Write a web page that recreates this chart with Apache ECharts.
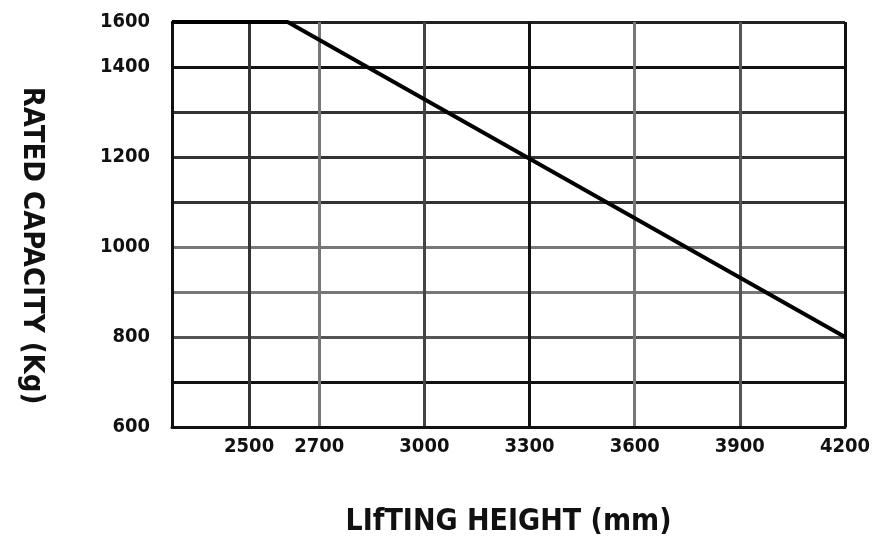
<!DOCTYPE html>
<html>
<head>
<meta charset="utf-8">
<script src="https://cdn.jsdelivr.net/npm/echarts@6/dist/echarts.min.js"></script>
<style>
	html, body { margin: 0; padding: 0; background: #fff; }
	#chart { width: 875px; height: 543px; }
</style>
</head>
<body>
<div id="chart"></div>
<script>
// lifting height (mm) -> rated capacity, in axis units
var heights = [ 2280, 2610, 4200 ];
var capacities = [ 1500, 1500, 800 ];

var xTicks = [ 2500, 2700, 3000, 3300, 3600, 3900, 4200 ];
var yGrid = [ 600, 700, 800, 900, 1000, 1100, 1200, 1300, 1400, 1500 ];
var yLabelValues = [ 600, 800, 1000, 1200, 1400, 1500 ];
var yLabelTexts = [ '600', '800', '1000', '1200', '1400', '1600' ];

var font = "'DejaVu Sans Condensed', 'Liberation Sans Narrow', sans-serif";

var option = {
	backgroundColor : '#fff',
	animation : false,
	grid : {
		left : 172,
		right : 30,
		top : 22,
		bottom : 116,
		outerBoundsMode : 'none'
	},
	xAxis : {
		type : 'value',
		min : 2280,
		max : 4200,
		name : 'LIfTING HEIGHT (mm)',
		nameLocation : 'middle',
		nameGap : 80,
		nameTextStyle : {
			fontFamily : font,
			fontWeight : 'bold',
			fontSize : 30,
			color : '#111'
		},
		axisLine : {
			lineStyle : { color : '#111', width : 3 }
		},
		axisTick : { show : false, customValues : xTicks },
		axisLabel : {
			customValues : xTicks,
			margin : 10,
			fontFamily : font,
			fontWeight : 'bold',
			fontSize : 20,
			color : '#111',
			formatter : function(value) {
				return String(value);
			}
		},
		splitLine : {
			show : true,
			lineStyle : {
				color : [ '#333', '#777', '#444', '#111', '#777', '#555', '#111' ],
				width : 3
			}
		}
	},
	yAxis : {
		type : 'value',
		min : 600,
		max : 1500,
		name : 'RATED CAPACITY (Kg)',
		nameLocation : 'middle',
		nameRotate : -90,
		nameGap : 126,
		nameTextStyle : {
			fontFamily : font,
			fontWeight : 'bold',
			fontSize : 29,
			color : '#111',
			padding : [ 0, 0, 0, 42 ]
		},
		axisLine : {
			show : true,
			lineStyle : { color : '#111', width : 3 }
		},
		axisTick : { show : false, customValues : yGrid },
		axisLabel : {
			customValues : yLabelValues,
			margin : 22,
			fontFamily : font,
			fontWeight : 'bold',
			fontSize : 20,
			color : '#111',
			formatter : function(value) {
				var i = yLabelValues.indexOf(value);
				return i >= 0 ? yLabelTexts[i] : '';
			}
		},
		splitLine : {
			show : true,
			lineStyle : {
				color : [ '#111', '#111', '#555', '#777', '#777', '#333', '#333', '#333', '#111', '#222' ],
				width : 3
			}
		}
	},
	series : [ {
		type : 'line',
		data : heights.map(function(h, i) {
			return [ h, capacities[i] ];
		}),
		showSymbol : false,
		lineStyle : { color : '#000', width : 4 },
		z : 5
	} ]
};

var chart = echarts.init(document.getElementById('chart'));
chart.setOption(option);
</script>
</body>
</html>
